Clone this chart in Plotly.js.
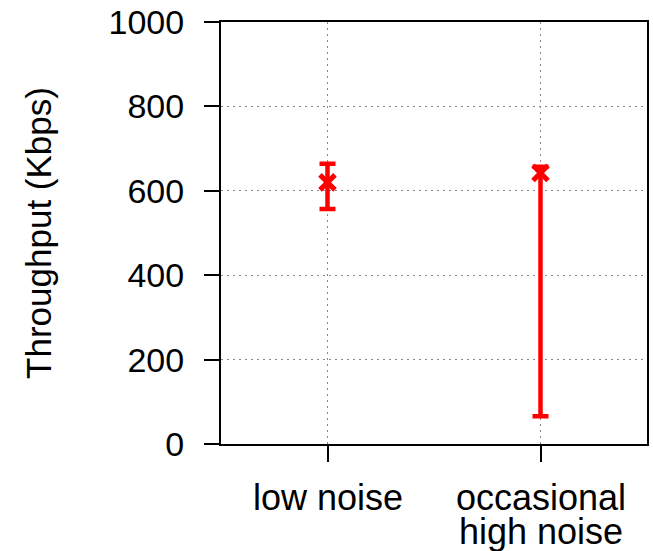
<!DOCTYPE html>
<html>
<head>
<meta charset="utf-8">
<script src="https://cdn.plot.ly/plotly-3.0.1.min.js"></script>
<style>html,body{margin:0;padding:0;background:#fff;}#chart{width:653px;height:551px;}</style>
</head>
<body>
<div id="chart"></div>
<script>
var categories = ["low noise", "occasional<br>high noise"];
var throughput = [620, 642];
var errPlus = [44, 15];
var errMinus = [63, 576];
var yTickVals = [0, 200, 400, 600, 800, 1000];
var yTickText = ["0", "200", "400", "600", "800", "1000"];

var FONT = "Liberation Sans, Arial, Helvetica, sans-serif";
var FS = 34;

var trace = {
  type: "scatter",
  mode: "markers",
  x: categories,
  y: throughput,
  marker: {symbol: "x-thin", size: 15, color: "#ff0000", line: {color: "#ff0000", width: 5}},
  error_y: {type: "data", symmetric: false, array: errPlus, arrayminus: errMinus,
            color: "#ff0000", thickness: 4.5, width: 8},
  showlegend: false,
  hoverinfo: "none"
};

// category labels drawn line by line at the category positions (tighter line spacing than Plotly's 1.3em)
var annotations = [];
var lineY = [-0.1256, -0.2070];
categories.forEach(function (c) {
  c.split("<br>").forEach(function (line, j) {
    annotations.push({
      x: c, xref: "x", y: lineY[j], yref: "paper",
      text: line, showarrow: false, xanchor: "center", yanchor: "middle",
      font: {family: FONT, size: 36, color: "#000"}
    });
  });
});

var layout = {
  width: 653, height: 551,
  margin: {l: 221, r: 6, t: 22, b: 107},
  paper_bgcolor: "#fff", plot_bgcolor: "#fff",
  font: {family: FONT, size: FS, color: "#000"},
  xaxis: {
    type: "category",
    range: [-0.5, 1.5],
    showline: true, linecolor: "#000", linewidth: 2, mirror: true,
    ticks: "outside", ticklen: 16, tickwidth: 2, tickcolor: "#000",
    showticklabels: false,
    showgrid: true, gridcolor: "#888", gridwidth: 1, griddash: "2px,4px",
    zeroline: false, fixedrange: true
  },
  yaxis: {
    range: [0, 1000],
    tickvals: yTickVals, ticktext: yTickText,
    showline: true, linecolor: "#000", linewidth: 2, mirror: true,
    ticks: "outside", ticklen: 15, tickwidth: 2, tickcolor: "#000",
    ticklabelstandoff: 13,
    tickfont: {family: FONT, size: FS, color: "#000"},
    showgrid: true, gridcolor: "#888", gridwidth: 1, griddash: "2px,4px",
    zeroline: false, fixedrange: true,
    title: {text: "Throughput (Kbps)", font: {family: FONT, size: 35, color: "#000"}, standoff: 46}
  },
  annotations: annotations
};

Plotly.newPlot("chart", [trace], layout, {displayModeBar: false, staticPlot: true});
</script>
</body>
</html>
